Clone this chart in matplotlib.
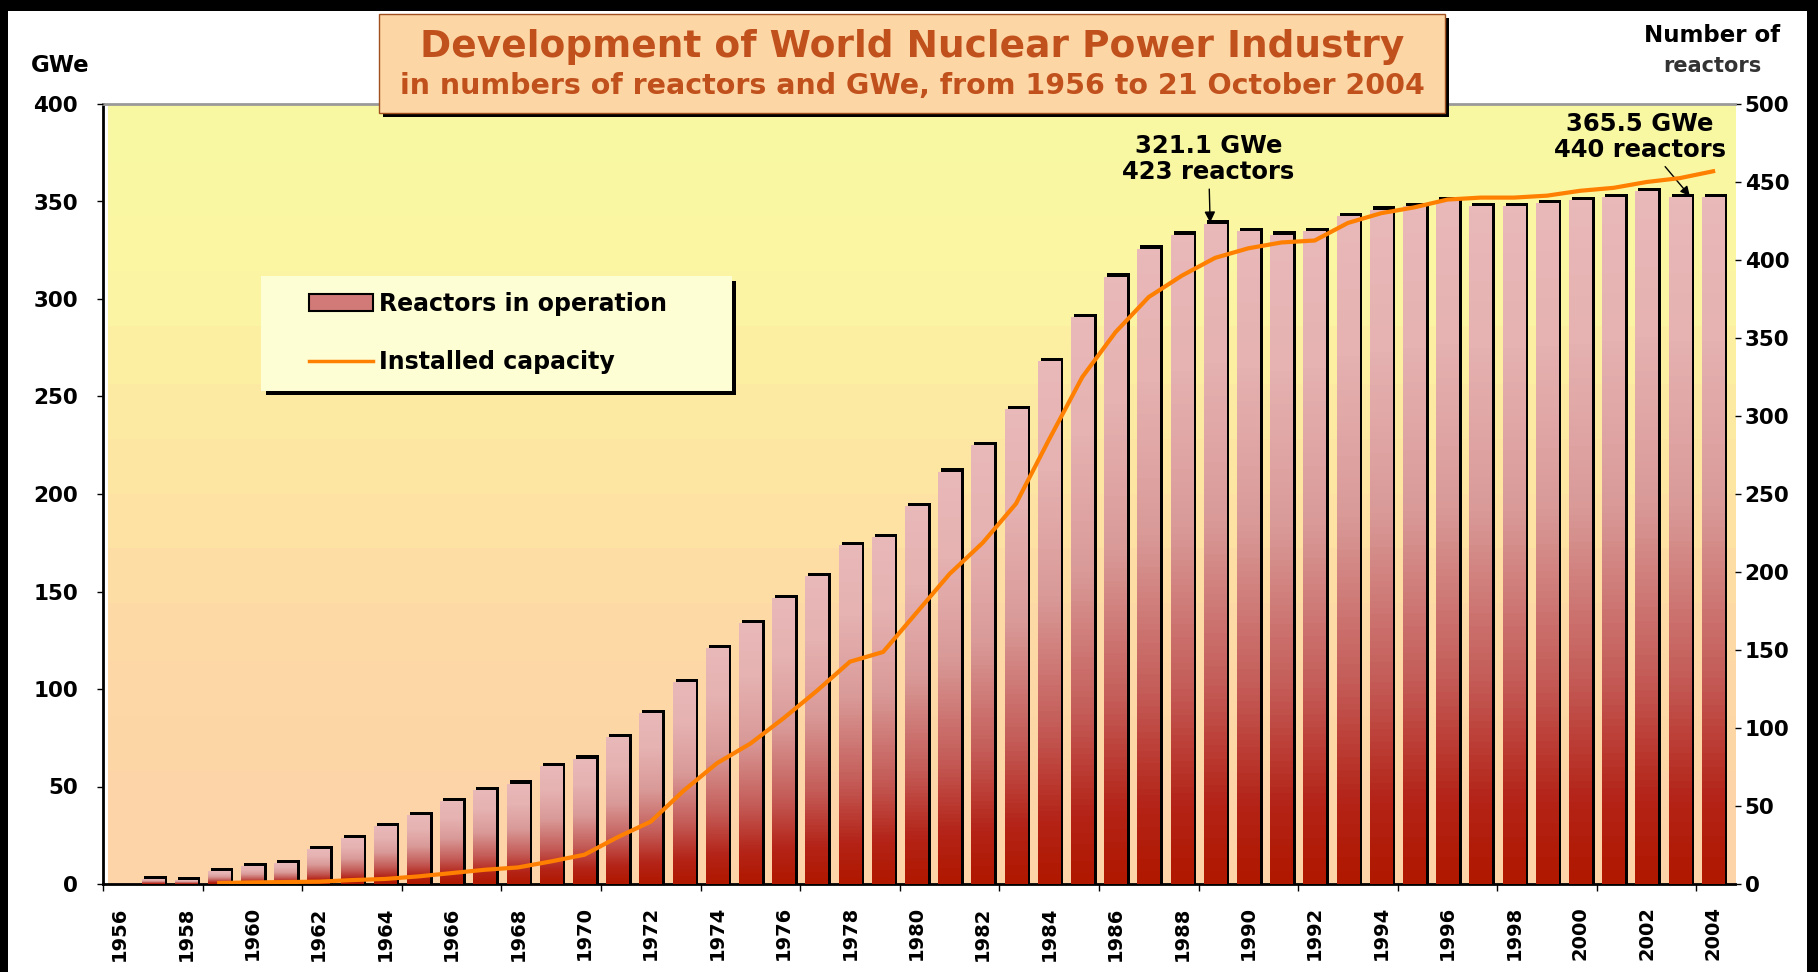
import matplotlib
matplotlib.use("Agg")
import matplotlib.pyplot as plt
import numpy as np
from matplotlib.colors import LinearSegmentedColormap
from matplotlib.patches import Rectangle, Patch
from matplotlib.lines import Line2D

# datos
years = list(range(1956, 2005))
reactors = [0, 3, 2, 8, 11, 13, 22, 29, 37, 44, 53, 60, 64, 75, 80, 94, 109, 129,
            151, 167, 183, 197, 217, 222, 242, 264, 281, 304, 335, 363, 389, 407,
            416, 423, 418, 416, 418, 428, 432, 434, 438, 434, 434, 436, 438, 440,
            444, 440, 440]
gwe = [np.nan, np.nan, np.nan, 0.5, 0.8, 1.0, 1.2, 2.0, 2.6, 3.9, 5.6, 7.3, 8.5,
       11.6, 15, 24, 32, 48, 62, 72, 85, 99, 114, 119, 139, 159, 175, 195, 228,
       260, 283, 301, 312, 321.1, 326, 329, 330, 339, 344, 347, 351, 352, 352,
       353, 355.5, 357, 360, 362, 365.5]
gwe_ticks = list(range(0, 401, 50))
reactor_ticks = list(range(0, 501, 50))

plt.rcParams['font.family'] = 'DejaVu Sans'
plt.rcParams['font.weight'] = 'bold'

W, H = 1818, 972
def fx(px):
    return px / W
def fy(py):
    return 1 - py / H

fig = plt.figure(figsize=(18.18, 9.72), dpi=100)
fig.patch.set_facecolor('white')

ax = fig.add_axes([fx(103), fy(884), fx(1735) - fx(103), fy(104) - fy(884)])
ax2 = ax.twinx()

x0, x1 = 1955.64, 2004.66

# fondo degradado
bg_cmap = LinearSegmentedColormap.from_list(
    'bg', [(0, '#FDD3A8'), (0.35, '#FDDCA5'), (0.6, '#FEEAA2'),
           (0.8, '#FBF6A2'), (1, '#F8F8A2')], N=14)
ax.imshow(np.linspace(0, 1, 200).reshape(-1, 1), extent=[x0, x1, 0, 500],
          origin='lower', aspect='auto', cmap=bg_cmap, zorder=0)

# barras con degradado y sombra negra
bar_cmap = LinearSegmentedColormap.from_list(
    'bar', [(0, '#B01800'), (0.12, '#B42418'), (0.3, '#C45C58'),
            (0.55, '#D99A98'), (0.8, '#E6B2B2'), (1.0, '#E9B8B8')])
grad = np.linspace(0, 1, 100).reshape(-1, 1)
w = 0.68
for yr, n in zip(years, reactors):
    if n <= 0:
        continue
    ax.add_patch(Rectangle((yr - w / 2 + 0.09, 0), w, n + 2.4,
                           facecolor='black', edgecolor='none', zorder=2))
    ax.imshow(grad, extent=[yr - w / 2, yr + w / 2, 0, n], origin='lower',
              aspect='auto', cmap=bar_cmap, zorder=3)

ax.set_xlim(x0, x1)
ax.set_ylim(0, 500)

# linea de capacidad instalada
ax2.plot(years, gwe, color='#FF7F00', lw=3, zorder=5)
ax2.set_ylim(0, 400)
ax2.set_xlim(x0, x1)

# ejes
ax.yaxis.tick_right()
ax.set_yticks(reactor_ticks)
ax.tick_params(axis='y', length=4, pad=3, labelsize=15.5, width=1)
ax2.yaxis.tick_left()
ax2.set_yticks(gwe_ticks)
ax2.tick_params(axis='y', length=4, pad=14, labelsize=15.5, width=1)

ax.set_xticks(years[::2])
ax.set_xticklabels([str(y) for y in years[::2]], rotation=90, fontsize=14)
ax.set_xticks(np.arange(1955.5, 2004, 3), minor=True)
ax.tick_params(axis='x', which='major', length=0, pad=16)
ax.tick_params(axis='x', which='minor', length=5, width=1)

for s in ['left', 'bottom']:
    ax.spines[s].set_linewidth(2)
    ax.spines[s].set_color('black')
ax.spines['top'].set_color('#9A9A9A')
ax.spines['top'].set_linewidth(2)
ax.spines['right'].set_visible(False)
for s in ax2.spines.values():
    s.set_visible(False)

# anotaciones
ax.annotate('321.1 GWe\n423 reactors', xy=(1988.85, 424), xytext=(1988.8, 465),
            ha='center', va='center', fontsize=17.5, linespacing=1.1, zorder=6,
            arrowprops=dict(arrowstyle='-|>', color='black', lw=1,
                            mutation_scale=16, shrinkA=2, shrinkB=0))
ax.annotate('365.5 GWe\n440 reactors', xy=(2003.3, 441), xytext=(2001.8, 479),
            ha='center', va='center', fontsize=17.5, linespacing=1.1, zorder=6,
            arrowprops=dict(arrowstyle='-|>', color='black', lw=1,
                            mutation_scale=14, shrinkA=2, shrinkB=0))

# etiquetas de ejes
fig.text(fx(60), fy(66), 'GWe', ha='center', va='center', fontsize=16.5)
fig.text(fx(1712), fy(35), 'Number of', ha='center', va='center', fontsize=16.5)
fig.text(fx(1712), fy(66), 'reactors', ha='center', va='center', fontsize=15,
         color='#333333')

# caja del titulo
fig.patches.append(Rectangle((fx(383), fy(117)), fx(1449) - fx(383), fy(18) - fy(117),
                             transform=fig.transFigure, facecolor='black',
                             edgecolor='none', zorder=8))
fig.patches.append(Rectangle((fx(379), fy(113)), fx(1445) - fx(379), fy(14) - fy(113),
                             transform=fig.transFigure, facecolor='#FDD6A5',
                             edgecolor='#A0501E', lw=1, zorder=9))
fig.text(fx(912), fy(47), 'Development of World Nuclear Power Industry',
         ha='center', va='center', fontsize=27, color='#C0501C', zorder=10)
fig.text(fx(912), fy(86), 'in numbers of reactors and GWe, from 1956 to 21 October 2004',
         ha='center', va='center', fontsize=20.5, color='#C0501C', zorder=10)

# caja de la leyenda
fig.patches.append(Rectangle((fx(266), fy(395)), fx(736) - fx(266), fy(281) - fy(395),
                             transform=fig.transFigure, facecolor='black',
                             edgecolor='none', zorder=8))
fig.patches.append(Rectangle((fx(261), fy(391)), fx(732) - fx(261), fy(276) - fy(391),
                             transform=fig.transFigure, facecolor='#FEFED4',
                             edgecolor='none', zorder=9))
handles = [Patch(facecolor='#D27A78', edgecolor='black', lw=1.5,
                 label='Reactors in operation'),
           Line2D([], [], color='#FF7F00', lw=2.5, label='Installed capacity')]
leg = fig.legend(handles=handles, loc='upper left',
                 bbox_to_anchor=(fx(309), fy(292)), bbox_transform=fig.transFigure,
                 frameon=False, fontsize=17, borderpad=0, borderaxespad=0,
                 handlelength=2.7, handletextpad=0.25, labelspacing=1.45)
leg.set_zorder(10)

# marco negro de la imagen
for (a, b, c, d) in [(0, 0, 1818, 11), (0, 0, 8, 972), (1807, 0, 1818, 972)]:
    fig.patches.append(Rectangle((fx(a), fy(d)), fx(c) - fx(a), fy(b) - fy(d),
                                 transform=fig.transFigure, facecolor='black',
                                 edgecolor='none', zorder=20))

fig.savefig('out.png', dpi=100)
